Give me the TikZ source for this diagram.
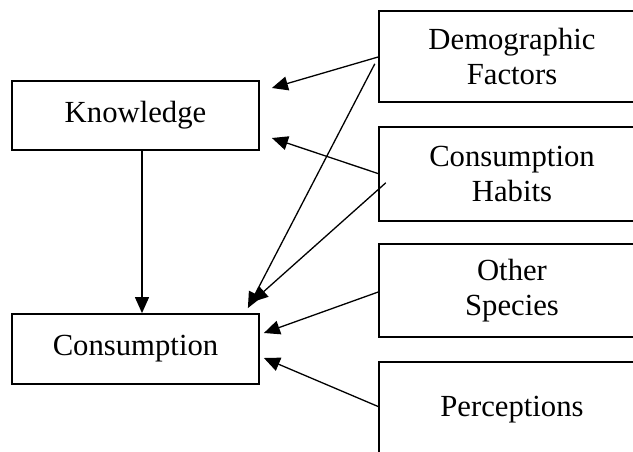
\documentclass[tikz,border=0pt]{standalone}
\usepackage{fontspec}
\setmainfont{Liberation Serif}
\usetikzlibrary{arrows.meta,calc}
\begin{document}
\begin{tikzpicture}[x=1pt,y=-1pt,
  txt/.style={rectangle,inner sep=0pt,align=center,
    font=\fontsize{30.7}{34.5}\selectfont},
  box/.style={txt,draw=black,line width=1.8pt},
  rbox/.style={txt,minimum width=266pt},
  frame/.style={line width=1.8pt,line join=miter},
  conn/.style={line width=1.3pt,-{Triangle[length=16pt,width=14pt]}}]
\useasboundingbox (0,0) rectangle (633,452);
\clip (0,0) rectangle (633,452);
\node[box,minimum width=247pt,minimum height=69pt] (know) at (135.5,115.5) {Knowledge};
\node[box,minimum width=247pt,minimum height=70pt] (cons) at (135.5,349) {Consumption};
\node[rbox,minimum height=91pt] (demo) at (512,56.5) {Demographic\\Factors};
\node[rbox,minimum height=94pt] (habit) at (512,174) {Consumption\\Habits};
\node[rbox,minimum height=93pt] (other) at (512,290.5) {Other\\Species};
\node[rbox,minimum height=96pt] (perc) at (512,410) {Perceptions};
\foreach \n in {demo,habit,other,perc}
  \draw[frame] (\n.north east) -- (\n.north west) -- (\n.south west) -- (\n.south east);
\draw[conn] ($(know.south)+(6.5,0)$) -- ($(cons.north)+(6.5,0)$);
\draw[conn] ($(demo.north west)+(0,46)$) -- ($(know.east)+(12,-27.5)$);
\draw[conn] ($(demo.north west)+(-4,53)$) -- ($(cons.north east)+(-12,-5)$);
\draw[conn] ($(habit.north west)+(0,47)$) -- ($(know.east)+(12,22.5)$);
\draw[conn] ($(habit.north west)+(7,56)$) -- ($(cons.north east)+(-8,-11)$);
\draw[conn] ($(other.north west)+(0,48)$) -- ($(cons.east)+(4,-16)$);
\draw[conn] ($(perc.north west)+(0,45)$) -- ($(cons.east)+(4,9)$);
\end{tikzpicture}
\end{document}
